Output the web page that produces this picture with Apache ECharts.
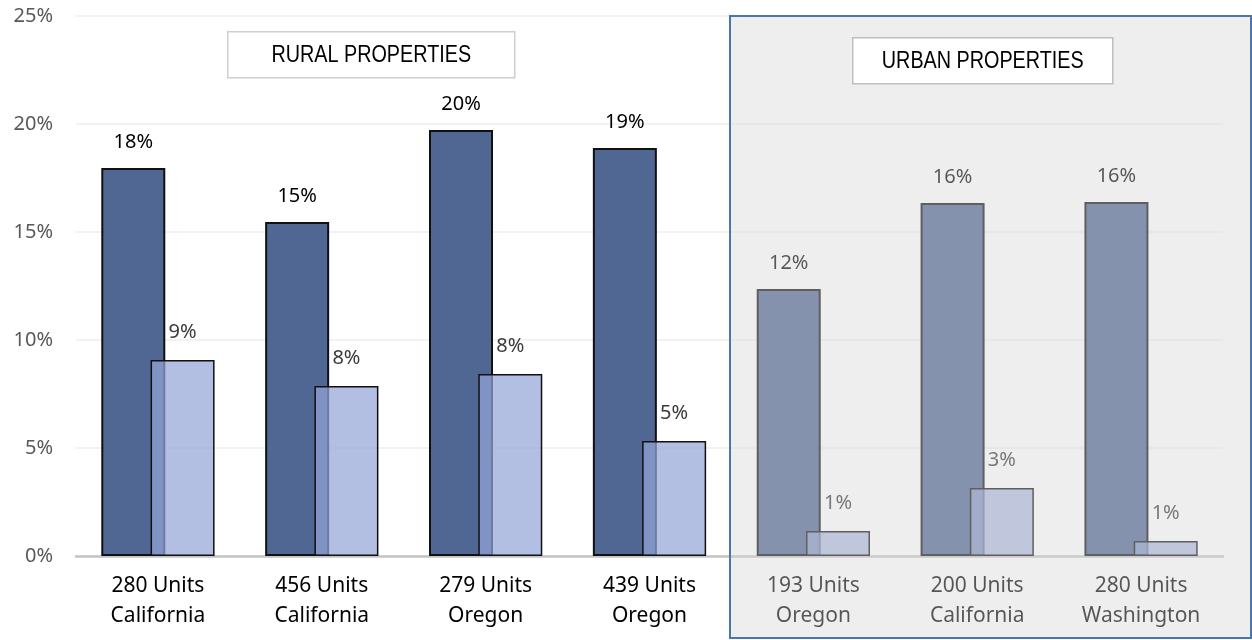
<!DOCTYPE html>
<html>
<head>
<meta charset="utf-8">
<script src="https://cdn.jsdelivr.net/npm/echarts@6/dist/echarts.min.js"></script>
<style>
html, body { margin: 0; padding: 0; background: #fff; }
#chart { width: 1252px; height: 640px; }
</style>
</head>
<body>
<div id="chart"></div>
<script>
// categories and values (percent)
var categories = ['280 Units\nCalifornia', '456 Units\nCalifornia', '279 Units\nOregon', '439 Units\nOregon',
                  '193 Units\nOregon', '200 Units\nCalifornia', '280 Units\nWashington'];
var seriesA = [17.96, 15.46, 19.72, 18.89, 12.36, 16.34, 16.39];
var seriesB = [9.07, 7.87, 8.43, 5.32, 1.16, 3.15, 0.69];
var yTicks = { min: 0, max: 25, interval: 5 };

var FONT = '"Noto Sans", sans-serif';
var BOXFONT = '23px "Liberation Sans", Arial, sans-serif';

var chart = echarts.init(document.getElementById('chart'));
chart.setOption({
    animation: false,
    grid: { left: 76, right: 29, top: 16, bottom: 84 },
    xAxis: {
        type: 'category',
        data: categories,
        axisLine: { lineStyle: { color: '#c4c4c4', width: 2.5 } },
        axisTick: { show: false },
        axisLabel: {
            color: '#000', fontSize: 21, fontFamily: FONT,
            lineHeight: 30, margin: 15, interval: 0
        }
    },
    yAxis: {
        type: 'value',
        min: yTicks.min, max: yTicks.max, interval: yTicks.interval,
        axisLine: { show: false },
        axisTick: { show: false },
        splitLine: { lineStyle: { color: '#eeeeee', width: 1.5 } },
        axisLabel: {
            formatter: '{value}%', color: '#595959', fontSize: 20,
            fontFamily: FONT, margin: 23
        }
    },
    series: [{
        type: 'bar',
        data: seriesA,
        barWidth: 64,
        barGap: '-23%',
        itemStyle: { color: 'rgba(74,97,144,0.97)', borderColor: '#111', borderWidth: 2 },
        label: {
            show: true, position: 'top', distance: 16,
            color: '#000', fontSize: 20, fontFamily: FONT,
            formatter: function (p) { return Math.round(p.value) + '%'; }
        }
    }, {
        type: 'bar',
        data: seriesB,
        barWidth: 64,
        itemStyle: { color: 'rgba(148,165,215,0.72)', borderColor: '#111', borderWidth: 1.5 },
        label: {
            show: true, position: 'top', distance: 18,
            color: '#3a3a3a', fontSize: 20, fontFamily: FONT,
            formatter: function (p) { return Math.round(p.value) + '%'; }
        }
    }],
    graphic: [{
        type: 'group',
        left: 227, top: 31,
        z: 50,
        children: [{
            type: 'rect',
            shape: { x: 0, y: 0, width: 287, height: 46 },
            style: { fill: '#fff', stroke: '#cfcfcf', lineWidth: 1.5 }
        }, {
            type: 'text',
            x: 143.5, y: 24,
            scaleX: 0.86,
            style: {
                text: 'RURAL PROPERTIES', fill: '#000', font: BOXFONT,
                align: 'center', verticalAlign: 'middle'
            }
        }]
    }, {
        // shaded urban block
        type: 'rect',
        z: 100,
        shape: { x: 730, y: 16, width: 521, height: 622 },
        style: { fill: 'rgba(212,212,212,0.4)', stroke: '#4a77aa', lineWidth: 2 }
    }, {
        type: 'group',
        left: 852, top: 37,
        z: 110,
        children: [{
            type: 'rect',
            z: 110,
            shape: { x: 0, y: 0, width: 260, height: 46 },
            style: { fill: '#fff', stroke: '#bfbfbf', lineWidth: 1.5 }
        }, {
            type: 'text',
            z: 111,
            x: 130, y: 24,
            scaleX: 0.86,
            style: {
                text: 'URBAN PROPERTIES', fill: '#000', font: BOXFONT,
                align: 'center', verticalAlign: 'middle'
            }
        }]
    }]
});
</script>
</body>
</html>
